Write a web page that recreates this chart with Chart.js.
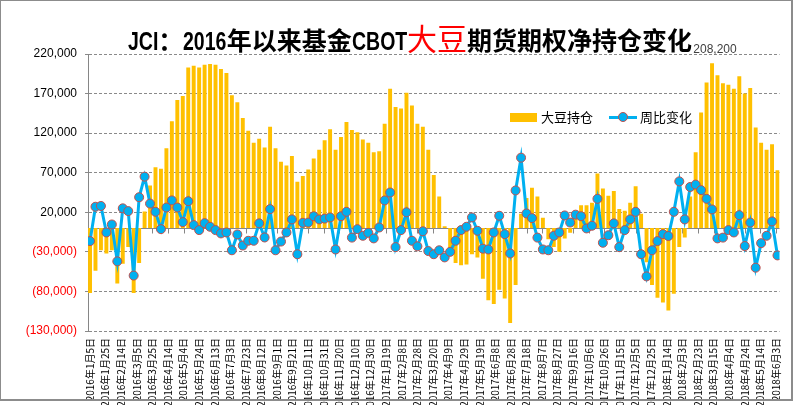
<!DOCTYPE html>
<html>
<head>
<meta charset="utf-8">
<script src="https://cdn.jsdelivr.net/npm/chart.js@4/dist/chart.umd.min.js"></script>
<style>
  body { margin: 0; background: #fff; }
  #wrap { position: relative; width: 795px; height: 405px; overflow: hidden; }
  #chart { position: absolute; left: 0; top: 0; }
  #frame { position: absolute; left: 0; top: 0; width: 793px; height: 401px; box-sizing: border-box;
           border: 1px solid #8c8c8c; border-right-width: 2px; border-bottom-width: 2px; pointer-events: none; }
  #title { position: absolute; left: 128px; top: 22px; white-space: nowrap; line-height: 30px;
           font-family: "Noto Sans CJK SC", sans-serif; font-weight: bold; font-size: 25px; color: #000; }
  #title .lat { display: inline-block; font-family: "Liberation Sans", Arial, sans-serif; font-size: 25px;
                transform: scaleX(0.78); transform-origin: 0 50%; }
  #title .red { color: #ff0000; font-weight: normal; font-size: 30px; }
  #legend { position: absolute; left: 510px; top: 107px; font-family: "Noto Sans CJK SC", sans-serif;
            font-size: 13px; line-height: 18px; white-space: nowrap; color: #000; }
  #legend span { display: inline-block; vertical-align: middle; }
  .sw-bar { width: 27px; height: 9px; background: #ffc000; margin-right: 4px; }
  .sw-line { position: relative; width: 28px; height: 10px; margin-left: 16px; margin-right: 3px; }
  .sw-line::before { content: ""; position: absolute; left: 0; right: 0; top: 4px; height: 3px; background: #00b0f0; }
  .sw-line::after { content: ""; position: absolute; left: 9px; top: 0; width: 8px; height: 8px; border-radius: 50%;
                    background: #00b0f0; border: 1px solid #c0504d; }
</style>
</head>
<body>
<div id="wrap">
  <canvas id="chart" width="795" height="405"></canvas>
  <div id="title"><span class="lat">JCI</span>：<span class="lat">2016</span>年以来基金<span class="lat">CBOT</span><span class="red">大豆</span>期货期权净持仓变化</div>
  <div id="legend"><span class="sw-bar"></span><span>大豆持仓</span><span class="sw-line"></span><span>周比变化</span></div>
  <div id="frame"></div>
</div>
<script>
// weekly reports, first one on this date
const startDate = "2016-01-05";

// 大豆持仓 (net position)
const holdings = [
  -82000, -54000, -28000, -32000, -28000, -70000, -45000, -24000, -82000, -44000,
  21000, 54000, 77000, 75000, 101000, 135000, 162000, 167000, 203000, 205000,
  203000, 206500, 207500, 206500, 201000, 196000, 168000, 159000, 139000, 123000,
  108000, 113000, 102000, 128000, 101000, 84000, 79000, 91000, 58500, 66000,
  74000, 88000, 99000, 111000, 125000, 99000, 115000, 134000, 124000, 121000,
  112000, 108000, 96000, 97000, 132000, 176000, 153000, 151000, 171000, 155000,
  132000, 128000, 99000, 67000, 40000, 2500, -26000, -44000, -47000, -46000,
  -33000, -37000, -64000, -91000, -96000, -78000, -89000, -120000, -72000, 18000,
  38000, 51000, 40000, 13000, -14000, -24000, -30000, -13000, -6000, 15000,
  29000, 29000, 32000, 69000, 50000, 41000, 47000, 24000, 22000, 32000,
  53000, 18000, -43000, -72000, -88000, -94000, -104000, -83000, -24000, -12000,
  40000, 96000, 146000, 184000, 208200, 193000, 183000, 181000, 176000, 192000,
  170000, 177000, 127000, 108000, 99000, 106000, 73000
];

// 周比变化 (week-on-week change)
const weeklyChange = [
  -16400, 27000, 28000, -5500, 4600, -42000, 25000, 21500, -60000, 39000,
  65000, 31000, 20600, -1300, 26000, 35000, 26000, 7600, 34000, 3800,
  -2500, 6300, 1700, -2500, -6700, -5500, -28000, -8000, -22000, -16000,
  -16000, 6000, -11800, 24000, -28000, -17000, -5500, 11000, -33000, 6700,
  7000, 15000, 11000, 12000, 13500, -27000, 15000, 20600, -12000, -1300,
  -9700, -6000, -13000, 800, 35000, 45000, -24000, -2500, 20000, -16000,
  -23000, -4000, -29000, -33000, -28000, -37000, -30000, -16000, -2500, 1700,
  13500, -3400, -26000, -27000, -5500, 15600, -7600, -32000, 47600, 89000,
  18500, 12600, -12000, -27000, -28000, -9700, -5500, 16000, 7000, 17000,
  15000, -400, 3000, 37000, -18500, -9000, 6000, -24000, -2500, 11000,
  20600, -33000, -61000, -28000, -16400, -7600, -10000, 20600, 59000, 11000,
  52000, 55000, 48000, 37000, 23600, -13000, -12000, -2500, -5500, 16400,
  -22700, 7000, -50000, -19000, -9700, 8400, -34500
];

const xTickLabels = [
  "2016年1月5日", "2016年1月25日", "2016年2月14日", "2016年3月5日", "2016年3月25日",
  "2016年4月14日", "2016年5月4日", "2016年5月24日", "2016年6月13日", "2016年7月3日",
  "2016年7月23日", "2016年8月12日", "2016年9月1日", "2016年9月21日", "2016年10月11日",
  "2016年10月31日", "2016年11月20日", "2016年12月10日", "2016年12月30日", "2017年1月19日",
  "2017年2月8日", "2017年2月28日", "2017年3月20日", "2017年4月9日", "2017年4月29日",
  "2017年5月19日", "2017年6月8日", "2017年6月28日", "2017年7月18日", "2017年8月7日",
  "2017年8月27日", "2017年9月16日", "2017年10月6日", "2017年10月26日", "2017年11月15日",
  "2017年12月5日", "2017年12月25日", "2018年1月14日", "2018年2月3日", "2018年2月23日",
  "2018年3月15日", "2018年4月4日", "2018年4月24日", "2018年5月14日", "2018年6月3日"
];

const yTickMin = -130000;
const yTickMax = 220000;
const yTickStep = 50000;

// squeeze the latin runs of the title (condensed look), keeping the flow tight
document.querySelectorAll("#title .lat").forEach((el) => {
  const w = el.getBoundingClientRect().width / 0.78;
  el.style.marginRight = -(w * 0.22).toFixed(1) + "px";
});

const DAY = 86400000;
const start = Date.parse(startDate + "T00:00:00Z");
function dayOffset(label) {
  const m = label.match(/(\d+)年(\d+)月(\d+)日/);
  return Math.round((Date.UTC(+m[1], +m[2] - 1, +m[3]) - start) / DAY);
}
const tickDays = xTickLabels.map(dayOffset);
const weekDays = holdings.map((_, i) => i * 7);

const barPoints = holdings.map((v, i) => ({ x: weekDays[i], y: v }));
const linePoints = weeklyChange.map((v, i) => ({ x: weekDays[i], y: v }));

function fmt(v) {
  const s = Math.abs(v).toLocaleString("en-US");
  return v < 0 ? "(" + s + ")" : s;
}

// zero axis line with tick marks, like the excel category axis
const zeroAxis = {
  id: "zeroAxis",
  beforeDatasetsDraw(chart) {
    const { ctx, chartArea, scales } = chart;
    const y0 = Math.round(scales.y.getPixelForValue(0)) + 0.5;
    ctx.save();
    ctx.strokeStyle = "#868686";
    ctx.lineWidth = 1;
    ctx.beginPath();
    ctx.moveTo(chartArea.left, y0);
    ctx.lineTo(chartArea.right, y0);
    tickDays.forEach((d) => {
      const x = Math.round(scales.x.getPixelForValue(d)) + 0.5;
      ctx.moveTo(x, y0);
      ctx.lineTo(x, y0 + 5);
    });
    ctx.stroke();
    ctx.restore();
  },
};

// value label over the highest bar
const maxLabel = {
  id: "maxLabel",
  afterDatasetsDraw(chart) {
    const k = holdings.indexOf(Math.max(...holdings));
    const bar = chart.getDatasetMeta(1).data[k];
    const { ctx } = chart;
    ctx.save();
    ctx.font = "12px 'Liberation Sans', Arial, sans-serif";
    ctx.fillStyle = "#404040";
    ctx.textAlign = "center";
    ctx.textBaseline = "bottom";
    ctx.fillText(holdings[k].toLocaleString("en-US"), bar.x + 3, bar.y - 8);
    ctx.restore();
  },
};

new Chart(document.getElementById("chart"), {
  type: "bar",
  data: {
    datasets: [
      {
        type: "line",
        label: "周比变化",
        data: linePoints,
        order: 0,
        borderColor: "#00b0f0",
        borderWidth: 3,
        tension: 0,
        pointRadius: 4.5,
        pointBackgroundColor: "#00b0f0",
        pointBorderColor: "#c0504d",
        pointBorderWidth: 1,
      },
      {
        type: "bar",
        label: "大豆持仓",
        data: barPoints,
        order: 1,
        backgroundColor: "#ffc000",
        barPercentage: 0.9,
        categoryPercentage: 0.8,
      },
    ],
  },
  options: {
    responsive: false,
    devicePixelRatio: 1,
    animation: false,
    layout: { padding: { left: 0, right: 12, top: 54, bottom: 0 } },
    scales: {
      x: {
        type: "linear",
        offset: false,
        min: -2.6,
        max: 884.6,
        grid: { display: false, drawTicks: false },
        border: { display: false },
        afterBuildTicks: (axis) => {
          axis.ticks = tickDays.map((d) => ({ value: d }));
        },
        afterFit: (axis) => {
          axis.height = 74;
        },
        ticks: {
          autoSkip: false,
          minRotation: 90,
          maxRotation: 90,
          padding: 7,
          color: "#000",
          font: { family: "'Noto Sans CJK SC', sans-serif", size: 10 },
          callback: (value, index) => xTickLabels[index],
        },
      },
      y: {
        min: yTickMin,
        max: yTickMax,
        afterFit: (axis) => {
          axis.width = 88;
        },
        grid: {
          color: "#8a8a8a",
          tickLength: 3,
          drawTicks: true,
        },
        border: { display: true, color: "#868686", dash: [3, 2] },
        ticks: {
          stepSize: yTickStep,
          padding: 8,
          color: (c) => (c.tick.value < 0 ? "#ff0000" : "#000"),
          font: { family: "'Liberation Sans', Arial, sans-serif", size: 12 },
          callback: (v) => fmt(v),
        },
      },
    },
    plugins: {
      legend: { display: false },
      tooltip: { enabled: false },
      title: { display: false },
    },
  },
  plugins: [zeroAxis, maxLabel],
});
</script>
</body>
</html>
